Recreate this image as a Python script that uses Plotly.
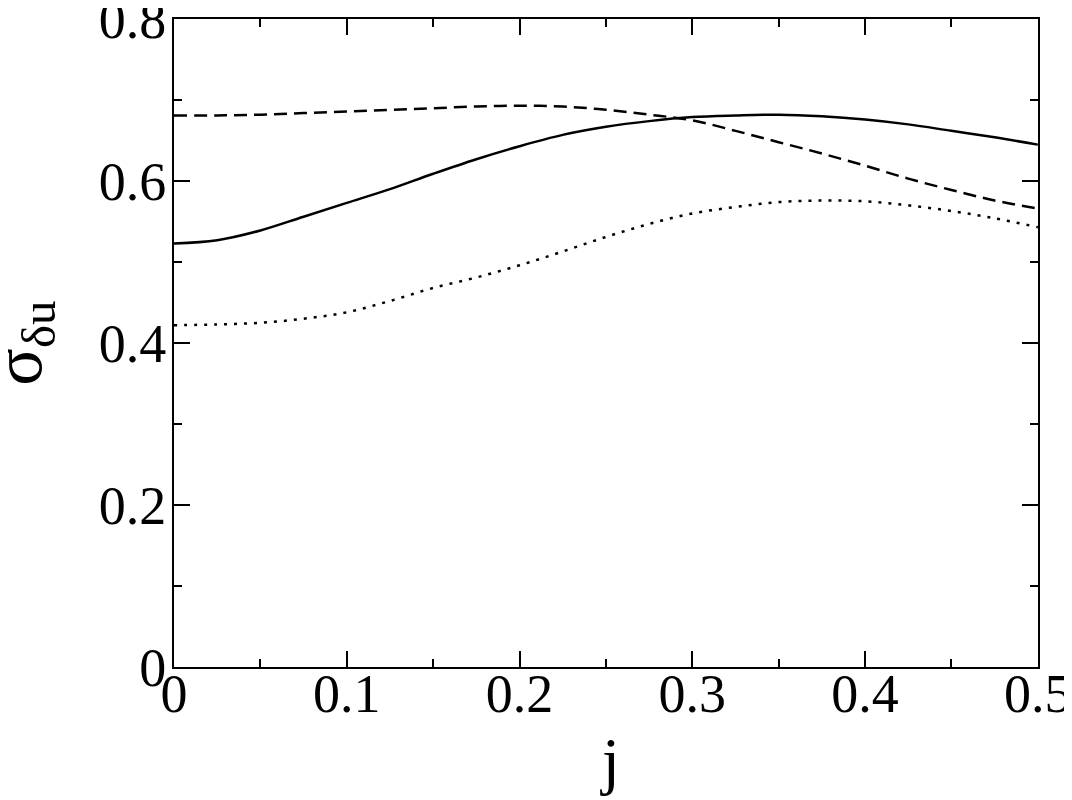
import plotly.graph_objects as go

# j values (x axis)
j = [0.0, 0.025, 0.05, 0.075, 0.1, 0.125, 0.15, 0.175, 0.2, 0.225, 0.25,
     0.275, 0.3, 0.325, 0.35, 0.375, 0.4, 0.425, 0.45, 0.475, 0.5]

# sigma_du curves
sigma_solid = [0.523, 0.527, 0.539, 0.556, 0.573, 0.590, 0.609, 0.627, 0.643, 0.657, 0.667,
               0.674, 0.679, 0.681, 0.682, 0.680, 0.676, 0.670, 0.662, 0.654, 0.645]
sigma_dashed = [0.681, 0.681, 0.682, 0.684, 0.686, 0.688, 0.690, 0.692, 0.693, 0.692, 0.688,
                0.682, 0.675, 0.662, 0.648, 0.634, 0.619, 0.603, 0.589, 0.576, 0.566]
sigma_dotted = [0.422, 0.423, 0.425, 0.430, 0.438, 0.452, 0.468, 0.481, 0.496, 0.513, 0.531,
                0.547, 0.560, 0.568, 0.574, 0.576, 0.575, 0.570, 0.563, 0.554, 0.543]

x_ticks = [0, 0.1, 0.2, 0.3, 0.4, 0.5]
x_labels = ["0", "0.1", "0.2", "0.3", "0.4", "0.5"]
y_ticks = [0, 0.2, 0.4, 0.6, 0.8]
y_labels = ["0", "0.2", "0.4", "0.6", "0.8"]

FONT = "Liberation Serif, Times New Roman, serif"

fig = go.Figure()
fig.add_trace(go.Scatter(x=j, y=sigma_solid, mode="lines", line_shape="spline",
                         line=dict(color="black", width=2.5)))
fig.add_trace(go.Scatter(x=j, y=sigma_dashed, mode="lines", line_shape="spline",
                         line=dict(color="black", width=2.5, dash="13px,7px")))
fig.add_trace(go.Scatter(x=j, y=sigma_dotted, mode="lines", line_shape="spline",
                         line=dict(color="black", width=2.5, dash="3px,7px")))

axis_common = dict(
    showline=True, linecolor="black", linewidth=2, mirror="allticks",
    ticks="inside", ticklen=16, tickwidth=1.5, tickcolor="black",
    showgrid=False, zeroline=False, automargin=False, ticklabeloverflow="allow",
    tickfont=dict(family=FONT, size=54, color="black"),
)

fig.update_xaxes(
    range=[0, 0.5001], tickvals=x_ticks, ticktext=x_labels, ticklabelstandoff=-22,
    minor=dict(ticks="inside", ticklen=8, tickwidth=1.5, tickcolor="black", dtick=0.05),
    **axis_common,
)
fig.update_yaxes(
    range=[0, 0.8001], tickvals=y_ticks, ticktext=y_labels, ticklabelstandoff=-5,
    minor=dict(ticks="inside", ticklen=8, tickwidth=1.5, tickcolor="black", dtick=0.1),
    **axis_common,
)

# axis titles as annotations for exact placement
fig.add_annotation(text="j", xref="paper", yref="paper", x=0.5046, y=-0.145,
                   xanchor="center", yanchor="middle", showarrow=False,
                   font=dict(family=FONT, size=64, color="black"))
fig.add_annotation(text="σ<sub>δu</sub>", xref="paper", yref="paper", x=-0.175, y=0.5,
                   xanchor="center", yanchor="middle", textangle=-90, showarrow=False,
                   font=dict(family=FONT, size=70, color="black"))

fig.update_layout(
    width=1072, height=800,
    margin=dict(l=166, r=42, t=11, b=141),
    plot_bgcolor="white", paper_bgcolor="white",
    showlegend=False,
)

fig.write_html("out.html")
